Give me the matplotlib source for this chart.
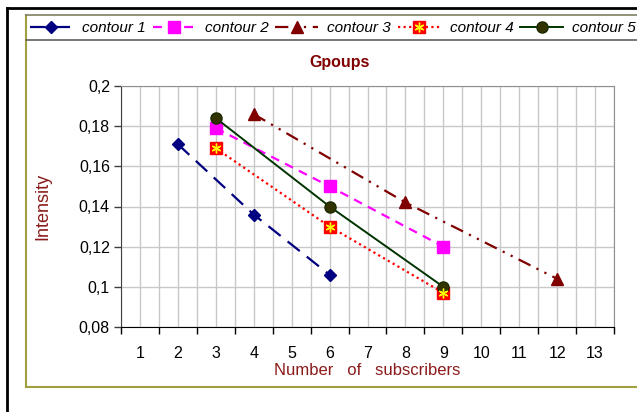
import matplotlib
matplotlib.use("Agg")
import matplotlib.pyplot as plt
from matplotlib.lines import Line2D
from matplotlib.ticker import FuncFormatter, MultipleLocator

plt.rcParams['font.family'] = ['Liberation Sans', 'DejaVu Sans']

# data
x1 = [2, 4, 6]
y1 = [0.171, 0.136, 0.106]
x2 = [3, 6, 9]
y2 = [0.179, 0.150, 0.120]
x3 = [4, 8, 12]
y3 = [0.186, 0.142, 0.104]
x4 = [3, 6, 9]
y4 = [0.169, 0.130, 0.097]
x5 = [3, 6, 9]
y5 = [0.184, 0.140, 0.100]
names = ['contour 1', 'contour 2', 'contour 3', 'contour 4', 'contour 5']
categories = list(range(1, 14))

fig = plt.figure(figsize=(6.37, 4.12), dpi=100)
W, H = 637.0, 412.0
ax = fig.add_axes([121 / W, 1 - 327 / H, (614 - 121) / W, (327 - 86) / H])

l1, = ax.plot(x1, y1, color='#000080', lw=1.6, dashes=(7, 4), marker='D', ms=6.5,
              mfc='#000080', mec='#000080', zorder=3)
l2, = ax.plot(x2, y2, color='#ff00ff', lw=1.6, dashes=(4, 3), marker='s', ms=8,
              mfc='#ff00ff', mec='#ff00ff', zorder=3)
l3, = ax.plot(x3, y3, color='#800000', lw=1.6, dashes=(6, 3, 1, 3, 1, 3), marker='^',
              ms=8, mfc='#800000', mec='#800000', zorder=3)
l4, = ax.plot(x4, y4, color='#ff0000', lw=1.6, dashes=(1, 1.5), marker='s', ms=9,
              mfc='#ff0000', mec='#ff0000', zorder=3)
l4b, = ax.plot(x4, y4, ls='none', marker=(6, 2, 0), ms=7, mec='#ffff00', mew=1, zorder=4)
l5, = ax.plot(x5, y5, color='#003300', lw=1.4, marker='o', ms=8,
              mfc='#333300', mec='#1a2a00', zorder=3)

ax.set_xlim(0.5, 13.5)
ax.set_ylim(0.08, 0.2)
ax.set_xticks([c - 0.5 for c in categories] + [13.5])
ax.set_xticklabels([])
ax.set_xticks(categories, minor=True)
ax.set_xticklabels([str(c) for c in categories], minor=True)
ax.tick_params(axis='x', which='major', direction='out', length=5, width=1, color='black')
ax.tick_params(axis='x', which='minor', length=0, pad=14, labelsize=11.5)
ax.yaxis.set_major_locator(MultipleLocator(0.02))
ax.yaxis.set_major_formatter(FuncFormatter(lambda v, p: ('%g' % round(v, 2)).replace('.', ',')))
ax.tick_params(axis='y', direction='out', length=5, width=1, color='#404040', labelsize=11.5, pad=3)

# grid at every half category and every 0.02
ax.grid(True, which='both', axis='x', color='#c8c8c8', lw=1)
ax.grid(True, which='major', axis='y', color='#c8c8c8', lw=1)
ax.set_axisbelow(True)
for s in ['top', 'right']:
    ax.spines[s].set_color('#909090')
ax.spines['left'].set_color('#404040')
ax.spines['bottom'].set_color('black')

ax.set_xlabel('Number   of   subscribers', color='#8b1a1a', fontsize=12, labelpad=1)
ax.set_ylabel('Intensity', color='#8b1a1a', fontsize=13, labelpad=20)
fig.text(340 / W, 1 - 63 / H, 'Gpoups', color='#800000', fontsize=11.5,
         fontweight='bold', ha='center', va='center')

# legend along the top
leg = fig.legend([l1, l2, l3, (l4, l4b), l5], names, loc='center left', ncol=5,
                 bbox_to_anchor=(30 / W, 1 - 28 / H), frameon=False,
                 prop={'style': 'italic', 'size': 11}, handlelength=2.8,
                 handletextpad=0.6, columnspacing=0.45, borderaxespad=0,
                 borderpad=0)

# frames around the chart
fig.add_artist(Line2D([7 / W, 7 / W], [0, 1 - 8 / H], color='black', lw=2))
fig.add_artist(Line2D([7 / W, 1], [1 - 8 / H, 1 - 8 / H], color='black', lw=2))
fig.add_artist(Line2D([26 / W, 26 / W], [1 - 387 / H, 1 - 15 / H], color='#a0a040', lw=1.5))
fig.add_artist(Line2D([26 / W, 1], [1 - 387 / H, 1 - 387 / H], color='#a0a040', lw=1.5))
fig.add_artist(Line2D([26 / W, 1], [1 - 15 / H, 1 - 15 / H], color='#808060', lw=1.2))
fig.add_artist(Line2D([26 / W, 1], [1 - 40 / H, 1 - 40 / H], color='#606060', lw=1.2))

fig.savefig('out.png', dpi=100)
